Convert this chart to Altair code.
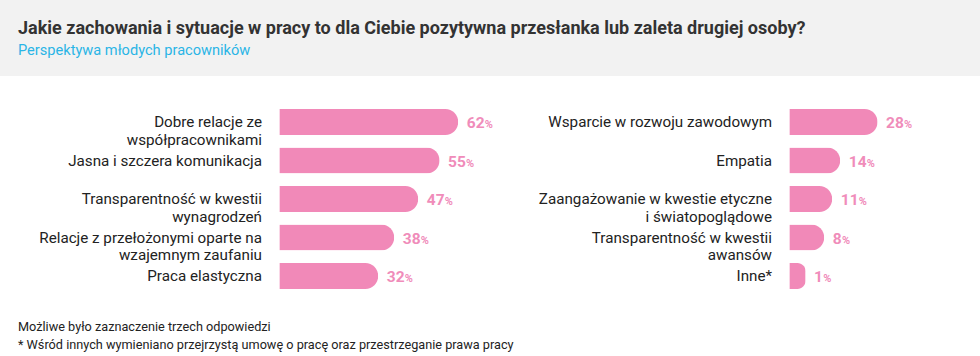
import altair as alt
import pandas as pd

# ---- data ----
title_text = "Jakie zachowania i sytuacje w pracy to dla Ciebie pozytywna przesłanka lub zaleta drugiej osoby?"
subtitle_text = "Perspektywa młodych pracowników"
footer_lines = [
    "Możliwe było zaznaczenie trzech odpowiedzi",
    "* Wśród innych wymieniano przejrzystą umowę o pracę oraz przestrzeganie prawa pracy",
]

left_labels = [
    "Dobre relacje ze\nwspółpracownikami",
    "Jasna i szczera komunikacja",
    "Transparentność w kwestii\nwynagrodzeń",
    "Relacje z przełożonymi oparte na\nwzajemnym zaufaniu",
    "Praca elastyczna",
]
left_values = [62, 55, 47, 38, 32]

right_labels = [
    "Wsparcie w rozwoju zawodowym",
    "Empatia",
    "Zaangażowanie w kwestie etyczne\ni światopoglądowe",
    "Transparentność w kwestii\nawansów",
    "Inne*",
]
right_values = [28, 14, 11, 8, 1]

# ---- style ----
W, H = 980, 356
PINK = "#f189b8"
PINK_TXT = "#f08cba"
FONT = "Roboto"
K = 2.667          # px per percentage point
OFF = 5.1          # visual offset of the bar start (in % units)
Y0, Y1 = 122, 276  # centres of first / last row

left_df = pd.DataFrame({"label": left_labels, "v": left_values, "row": range(5)})
right_df = pd.DataFrame({"label": right_labels, "v": right_values, "row": range(5)})


def yenc():
    return alt.Y("row:Q", scale=alt.Scale(domain=[0, 4], range=[Y0, Y1], padding=0, nice=False, zero=False), axis=None)


def panel(df, bar_start, label_right):
    xs = alt.Scale(domain=[0, 100 + OFF], range=[bar_start, bar_start + (100 + OFF) * K], padding=0, nice=False)
    base = alt.Chart(df).transform_calculate(vb="datum.v + %f" % OFF)
    X = alt.X("vb:Q", scale=xs, axis=None)
    bars = base.mark_bar(height=26, cornerRadiusEnd=13, color=PINK, orient="horizontal").encode(
        x=X, y=yenc()
    )
    labels = base.mark_text(
        align="right", baseline="middle", font=FONT, fontSize=15.2, color="#222222",
        lineBreak="\n", lineHeight=17.9
    ).encode(x=alt.value(label_right), y=yenc(), text="label:N")
    nums = base.mark_text(
        align="left", baseline="alphabetic", font=FONT, fontSize=15.5, fontWeight="bold",
        color=PINK_TXT, dx=8.5, dy=6.3
    ).encode(x=X, y=yenc(), text="v:Q")
    pct = base.transform_calculate(
        px="datum.vb + (length(toString(datum.v)) * 8.7 + 9) / %f" % K
    ).mark_text(
        align="left", baseline="alphabetic", font=FONT, fontSize=11, fontWeight="bold",
        color=PINK_TXT, dy=6.3, text="%"
    ).encode(x=alt.X("px:Q", scale=xs, axis=None), y=yenc())
    return [bars, labels, nums, pct]


one = pd.DataFrame({"a": [0]})
header = alt.Chart(one).mark_rect(color="#f2f2f2").encode(
    x=alt.value(0), x2=alt.value(W), y=alt.value(0), y2=alt.value(76)
)
title = alt.Chart(one).mark_text(
    text=title_text, align="left", baseline="middle", font=FONT, fontSize=18,
    fontWeight="bold", color="#333333"
).encode(x=alt.value(18), y=alt.value(29))
subtitle = alt.Chart(one).mark_text(
    text=subtitle_text, align="left", baseline="middle", font=FONT, fontSize=14.6,
    color="#2ab5e6"
).encode(x=alt.value(18), y=alt.value(51))
foot_df = pd.DataFrame({"t": footer_lines, "i": [0, 1]})
footer = alt.Chart(foot_df).mark_text(
    align="left", baseline="middle", font=FONT, fontSize=12.7, color="#222222"
).encode(
    x=alt.value(18),
    y=alt.Y("i:Q", scale=alt.Scale(domain=[0, 1], range=[327, 345], zero=False, nice=False), axis=None),
    text="t:N",
)

layers = [header, title, subtitle] + panel(left_df, 279.3, 262) + panel(right_df, 789.3, 772) + [footer]

chart = alt.layer(*layers).resolve_scale(x="independent", y="independent").properties(
    width=W, height=H, autosize=alt.AutoSizeParams(type="none"), padding=0,
    background="white"
).configure_view(stroke=None)

chart.save("out.html", embed_options={"renderer": "svg", "actions": False})
